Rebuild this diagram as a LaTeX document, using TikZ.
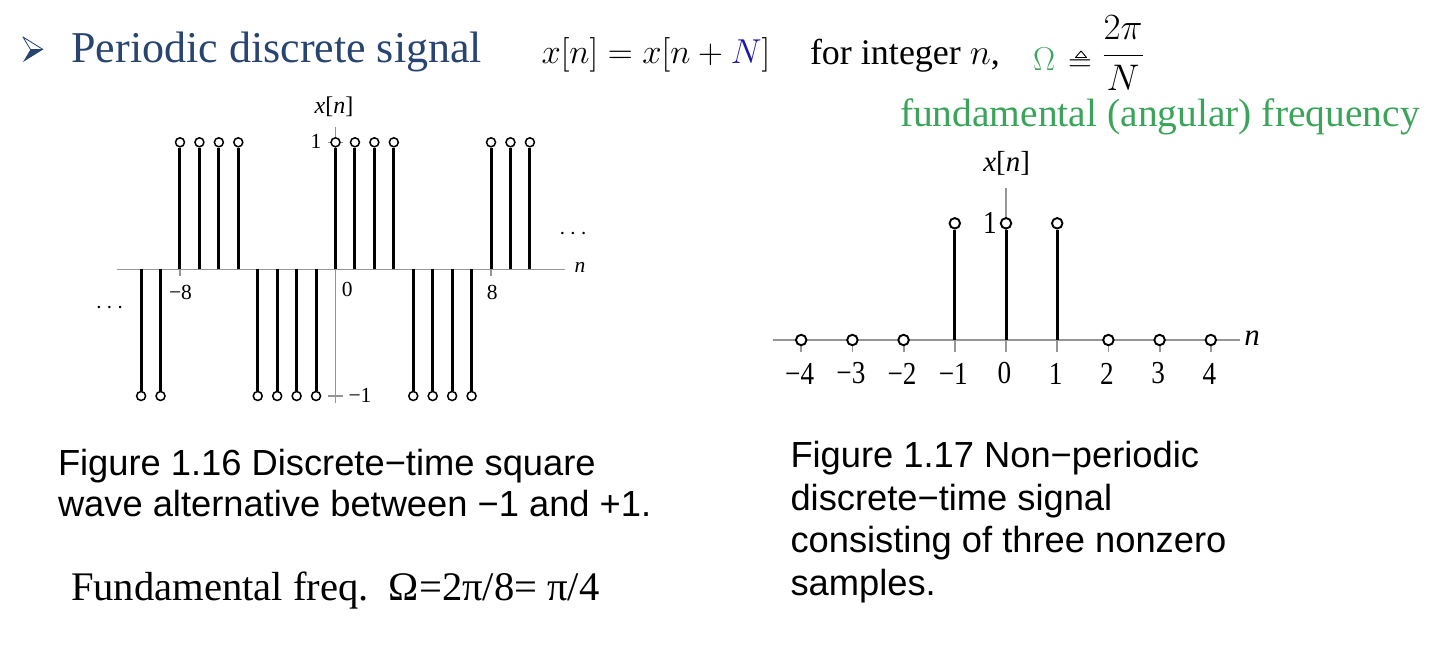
\RequirePackage{fix-cm}
\documentclass[tikz,border=0pt]{standalone}
\usepackage{amsmath}
\usepackage[no-math]{fontspec}
\setmainfont{Liberation Serif}
\newfontfamily\capfont{Liberation Sans}
\newfontfamily\condserif[FakeStretch=0.85]{Liberation Serif}
\definecolor{titleblue}{RGB}{40,68,112}
\definecolor{nblue}{RGB}{25,25,170}
\definecolor{fgreen}{RGB}{58,165,90}
\definecolor{axgray}{RGB}{150,150,150}
\newcommand{\setfs}[1]{\fontsize{#1}{#1}\selectfont}
\begin{document}
\begin{tikzpicture}[x=1pt,y=-1pt,
  axisL/.style={draw=axgray, line width=1.1pt},
  axisR/.style={draw=axgray, line width=1.8pt},
  stemL/.style={draw=black, line width=3pt},
  stemR/.style={draw=black, line width=3pt},
  dotL/.style={circle, draw=black, fill=white, line width=1.5pt, inner sep=0pt, minimum size=9pt},
  dotR/.style={circle, draw=black, fill=white, line width=1.9pt, inner sep=0pt, minimum size=10.5pt},
  txt/.style={inner sep=0pt, outer sep=0pt},
  lblL/.style={txt, font=\setfs{21.5}},
  lblR/.style={txt, font=\condserif\setfs{32}},
  captxt/.style={txt, anchor=base west, font=\capfont\setfs{36.3}}]
\fill[white] (0,0) rectangle (1440,653);
\useasboundingbox (0,0) rectangle (1440,653);

% ---------- header ----------
\fill[titleblue] (30.5,49.5) -- (43,49.5) -- (23,62) -- cycle;
\filldraw[draw=titleblue, fill=white, line width=0.8pt, line join=round] (23,37) -- (43,49.5) -- (30.5,49.5) -- cycle;
\node[txt, anchor=base west, text=titleblue, font=\setfs{44}] (title) at (71.5,62) {Periodic discrete signal};
\node[txt, anchor=base west, font=\setfs{34.6}] (eq) at (541.5,63.3) {$x[n] = x[n+{\color{nblue}N}]$};
\node[txt, anchor=base west, font=\setfs{36}] (forint) at (810,64) {for integer $n$,};
\node[txt, anchor=base west, font=\setfs{33}] (omg) at (1033,70.5) {$\color{fgreen}\Omega$};
\node[txt, anchor=base west, font=\setfs{33}] (deq) at (1068,71.5) {$=$};
\draw[line width=0.9pt, line join=round] (1075.5,57.5) -- (1086.5,57.5) -- (1081,51) -- cycle;
\node[txt, anchor=base west, font=\setfs{37}] (frac) at (1102.5,65) {$\displaystyle\frac{2\pi}{N}$};
\node[txt, anchor=base west, text=fgreen, font=\setfs{39.5}] (fund) at (900,126.5) {fundamental (angular) frequency};

% ---------- left plot ----------
\def\xL{335.5}
\def\dL{19.44}
\def\yA{269.3}
\def\yT{142.3}
\def\yB{396}
\coordinate (LaxW) at (117.3,\yA);
\coordinate (LaxE) at (565,\yA);
\draw[axisL] (LaxW) -- (LaxE);
\coordinate (LvT) at (\xL,127.3);
\coordinate (LvB) at (\xL,403.3);
\draw[axisL] (LvT) -- (LvB);
\draw[axisL] ({\xL-7.5},\yT) -- ({\xL+7.5},\yT);
\draw[axisL] ({\xL-7.5},\yB) -- ({\xL+7.5},\yB);
\draw[axisL] ({\xL-8*\dL},\yA) -- ({\xL-8*\dL},{\yA+6.5});
\draw[axisL] ({\xL+8*\dL},\yA) -- ({\xL+8*\dL},{\yA+6.5});
\foreach \n [count=\k] in {-8,-7,-6,-5,0,1,2,3,8,9,10} {
  \coordinate (Lub\k) at ({\xL+\dL*\n},\yA);
  \node[dotL] (Lu\k) at ({\xL+\dL*\n},\yT) {};
  \draw[stemL] (Lub\k) -- (Lu\k.south);
}
\foreach \n [count=\k] in {-10,-9,-4,-3,-2,-1,4,5,6,7} {
  \coordinate (Ldb\k) at ({\xL+\dL*\n},\yA);
  \node[dotL] (Ld\k) at ({\xL+\dL*\n},\yB) {};
  \draw[stemL] (Ldb\k) -- (Ld\k.north);
}
\node[txt, font=\setfs{24}] (Lxn) at (334,107) {\textit{x}[\textit{n}]};
\node[lblL] (L1) at (316,141) {1};
\node[lblL] (Lm1) at (360,395.5) {−1};
\node[lblL] (Lm8) at (180.5,292) {−8};
\node[lblL] (L0) at (347.3,289.5) {0};
\node[lblL] (L8) at (492.3,292) {8};
\node[lblL] (Ln) at (580,267) {\textit{n}};
\node[txt, font=\setfs{24}] (LdotsR) at (575,234) {$\cdots$};
\node[txt, font=\setfs{24}] (LdotsL) at (111.5,308.5) {$\cdots$};

% ---------- right plot ----------
\def\xR{1006}
\def\dR{51.2}
\def\yR{340}
\def\yRT{223.3}
\coordinate (RaxW) at (772.7,\yR);
\coordinate (RaxE) at (1240,\yR);
\draw[axisR] (RaxW) -- (RaxE);
\coordinate (RvT) at (\xR,188);
\coordinate (RvB) at (\xR,352);
\draw[axisR] (RvT) -- (RvB);
\foreach \n in {-4,...,4} {
  \draw[axisR] ({\xR+\dR*\n},\yR) -- ({\xR+\dR*\n},{\yR+12});
}
\foreach \n [count=\k] in {-1,0,1} {
  \coordinate (Rsb\k) at ({\xR+\dR*\n},\yR);
  \node[dotR] (Rs\k) at ({\xR+\dR*\n},\yRT) {};
  \draw[stemR] (Rsb\k) -- (Rs\k.south);
}
\foreach \n [count=\k] in {-4,-3,-2,2,3,4} {
  \node[dotR] (Rz\k) at ({\xR+\dR*\n},\yR) {};
}
\foreach \n [count=\k] in {-4,-3,-2,-1,0,1,2,3,4} {
  \node[lblR] (Rl\k) at ({\xR+\dR*\n-1.5},373.5) {\ifnum\n<0 −\the\numexpr-\n\relax\else\n\fi};
}
\node[lblR] (R1) at (990,223.3) {1};
\node[txt, font=\setfs{29}] (Rxn) at (1006.7,163.3) {\textit{x}[\textit{n}]};
\node[txt, font=\setfs{31}] (Rn) at (1252,338) {\textit{n}};

% ---------- captions ----------
\node[captxt] (capL1) at (58,475) {Figure 1.16 Discrete−time square};
\node[captxt] (capL2) at (58,516) {wave alternative between −1 and +1.};
\node[txt, anchor=base west, font=\setfs{40.6}] (ffreq) at (71,600.5) {Fundamental freq.\ \ Ω=2π/8= π/4};
\node[captxt] (capR1) at (790.5,467.5) {Figure 1.17 Non−periodic};
\node[captxt] (capR2) at (790.5,510) {discrete−time signal};
\node[captxt] (capR3) at (790.5,552.5) {consisting of three nonzero};
\node[captxt] (capR4) at (790.5,595) {samples.};
\end{tikzpicture}
\end{document}
